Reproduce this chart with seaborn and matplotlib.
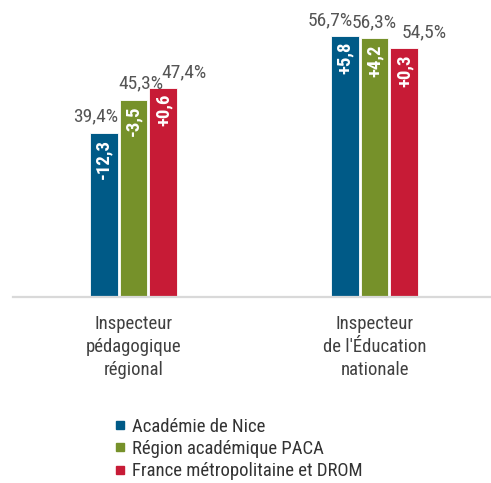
import matplotlib
matplotlib.use("Agg")
import matplotlib.pyplot as plt
from matplotlib.lines import Line2D
import seaborn as sns
import pandas as pd

# --- data -------------------------------------------------------------
categories = ["Inspecteur\npédagogique\nrégional",
              "Inspecteur\nde l'Éducation\nnationale"]
series = ["Académie de Nice", "Région académique PACA",
          "France métropolitaine et DROM"]
nice = [39.4, 56.7]
paca = [45.3, 56.3]
france = [47.4, 54.5]
# evolution shown inside each bar
evol_nice = [-12.3, 5.8]
evol_paca = [-3.5, 4.2]
evol_france = [0.6, 0.3]

colors = ["#005a87", "#76912a", "#c71b36"]

# --- long-form table --------------------------------------------------
values = [nice, paca, france]
evols = [evol_nice, evol_paca, evol_france]
rows = []
for s, vals in zip(series, values):
    for c, v in zip(categories, vals):
        rows.append({"categorie": c, "serie": s, "taux": v})
df = pd.DataFrame(rows)

sns.set_theme(style="white")
plt.rcParams["font.family"] = ["Roboto Condensed", "Roboto", "DejaVu Sans"]

W, H = 491, 483
fig = plt.figure(figsize=(W / 100, H / 100), dpi=100)
ax = fig.add_axes([13 / W, (H - 297) / H, 482 / W, (297 - 17.5) / H])

sns.barplot(data=df, x="categorie", y="taux", hue="serie",
            order=categories, hue_order=series, palette=colors,
            saturation=1, width=0.373, gap=0.067, legend=False, ax=ax,
            edgecolor="white", linewidth=0.6)

ax.set_ylim(10, 60)
ax.set_xlim(-0.5, 1.5)
ax.set_xlabel("")
ax.set_ylabel("")
ax.set_yticks([])
for side in ("left", "right", "top"):
    ax.spines[side].set_visible(False)
ax.spines["bottom"].set_color("#d9d9d9")
ax.spines["bottom"].set_linewidth(1.6)

ax.set_xticks([0, 1])
ax.set_xticklabels(categories, fontsize=13.5, color="#404040", linespacing=1.36)
ax.tick_params(axis="x", which="major", length=0, pad=13)
ax.set_xticks([-0.5, 0.5, 1.5], minor=True)
ax.tick_params(axis="x", which="minor", length=4, width=1.4,
               color="#d9d9d9", direction="out")

# value labels above the bars (horizontal nudges keep neighbours apart)
label_dx = [[-8, -14], [7, 0], [21, 20]]
for i, cont in enumerate(ax.containers):
    for j, bar in enumerate(cont):
        x = bar.get_x() + bar.get_width() / 2
        top = bar.get_height()
        ax.annotate(f"{values[i][j]:.1f}".replace(".", ",") + "%",
                    (x, top), xytext=(label_dx[i][j], 16),
                    textcoords="offset pixels", ha="center", va="center",
                    fontsize=14, color="#555555", annotation_clip=False)
        ev = evols[i][j]
        txt = f"{ev:+.1f}".replace(".", ",")
        ax.annotate(txt, (x, top), xytext=(0, -6),
                    textcoords="offset pixels", ha="center", va="top",
                    rotation=90, fontsize=13.5, fontweight="bold",
                    color="white")

handles = [Line2D([], [], marker="s", linestyle="none", markersize=6,
                  markerfacecolor=c, markeredgecolor=c) for c in colors]
fig.legend(handles, series, loc="upper left",
           bbox_to_anchor=(106 / W, 1 - 410 / H), frameon=False,
           fontsize=13.5, labelcolor="#333333", handlelength=0.7,
           handletextpad=0.3, labelspacing=0.24, borderaxespad=0)

fig.savefig("out.png", dpi=100)
